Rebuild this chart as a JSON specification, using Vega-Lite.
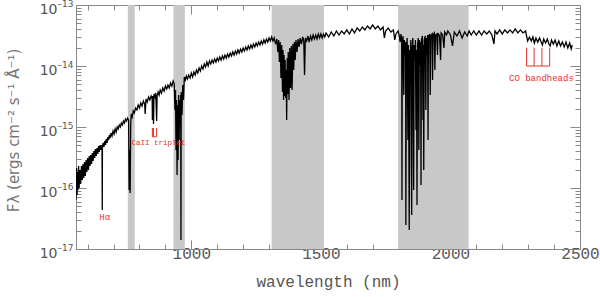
{
  "$schema": "https://vega.github.io/schema/vega-lite/v6.json",
  "autosize": {"type": "none"},
  "width": 504,
  "height": 244,
  "padding": {"left": 76, "top": 5, "right": 20, "bottom": 48},
  "background": "white",
  "config": {"view": {"stroke": null}},
  "datasets": {
    "bands": [{"a": 755, "b": 782}, {"a": 931, "b": 975}, {"a": 1310, "b": 1512}, {"a": 1798, "b": 2070}],
    "spec": [
      {"w":555,"f":6.36e-17},{"w":557,"f":2.13e-16},{"w":559,"f":7.67e-17},{"w":561,"f":1.83e-16},{"w":563,"f":9.27e-17},
      {"w":565,"f":2.29e-16},{"w":567,"f":1.00e-16},{"w":570,"f":1.97e-16},{"w":573,"f":1.16e-16},{"w":576,"f":2.29e-16},
      {"w":579,"f":1.35e-16},{"w":582,"f":2.47e-16},{"w":585,"f":1.46e-16},{"w":588,"f":2.67e-16},{"w":591,"f":1.57e-16},
      {"w":594,"f":2.88e-16},{"w":597,"f":1.83e-16},{"w":600,"f":3.10e-16},{"w":603,"f":1.97e-16},{"w":606,"f":3.35e-16},
      {"w":609,"f":2.29e-16},{"w":612,"f":3.48e-16},{"w":615,"f":2.47e-16},{"w":618,"f":3.75e-16},{"w":621,"f":2.77e-16},
      {"w":624,"f":4.04e-16},{"w":627,"f":3.10e-16},{"w":630,"f":4.36e-16},{"w":633,"f":3.35e-16},{"w":636,"f":4.53e-16},
      {"w":639,"f":3.61e-16},{"w":642,"f":4.88e-16},{"w":645,"f":3.90e-16},{"w":648,"f":5.07e-16},{"w":651,"f":4.20e-16},
      {"w":654,"f":5.07e-16},{"w":655.5,"f":4.53e-16},{"w":656.3,"f":4.36e-17},{"w":657,"f":4.88e-16},{"w":660,"f":5.47e-16},
      {"w":663,"f":4.70e-16},{"w":666,"f":5.90e-16},{"w":669,"f":5.07e-16},{"w":672,"f":6.36e-16},{"w":675,"f":5.47e-16},
      {"w":678,"f":6.86e-16},{"w":681,"f":6.12e-16},{"w":684,"f":7.39e-16},{"w":687,"f":6.60e-16},{"w":690,"f":7.97e-16},
      {"w":694,"f":7.12e-16},{"w":698,"f":8.60e-16},{"w":702,"f":7.68e-16},{"w":706,"f":9.27e-16},{"w":710,"f":8.28e-16},
      {"w":714,"f":1.00e-15},{"w":718,"f":9.27e-16},{"w":722,"f":1.08e-15},{"w":726,"f":1.00e-15},{"w":730,"f":1.16e-15},
      {"w":734,"f":1.08e-15},{"w":738,"f":1.25e-15},{"w":742,"f":1.16e-15},{"w":746,"f":1.35e-15},{"w":750,"f":1.25e-15},
      {"w":754,"f":1.40e-15},{"w":758,"f":1.30e-15},{"w":760,"f":9.27e-17},{"w":762,"f":4.20e-16},{"w":764,"f":8.3e-17},
      {"w":766,"f":1.08e-15},{"w":768,"f":1.63e-15},{"w":772,"f":1.46e-15},{"w":776,"f":1.83e-15},{"w":780,"f":1.70e-15},
      {"w":785,"f":2.05e-15},{"w":790,"f":1.90e-15},{"w":795,"f":2.29e-15},{"w":800,"f":2.05e-15},{"w":805,"f":2.47e-15},
      {"w":810,"f":2.21e-15},{"w":815,"f":2.67e-15},{"w":820,"f":2.38e-15},{"w":822,"f":1.63e-15},{"w":825,"f":2.88e-15},
      {"w":830,"f":2.57e-15},{"w":835,"f":3.10e-15},{"w":840,"f":2.77e-15},{"w":845,"f":3.22e-15},{"w":849,"f":2.88e-15},
      {"w":849.8,"f":1.30e-15},{"w":851,"f":3.22e-15},{"w":854.2,"f":1.12e-15},{"w":856,"f":3.48e-15},{"w":860,"f":3.10e-15},
      {"w":863,"f":3.61e-15},{"w":866.2,"f":1.25e-15},{"w":868,"f":3.22e-15},{"w":872,"f":3.75e-15},{"w":876,"f":3.35e-15},
      {"w":880,"f":4.04e-15},{"w":885,"f":3.61e-15},{"w":890,"f":4.36e-15},{"w":895,"f":3.90e-15},{"w":900,"f":4.70e-15},
      {"w":905,"f":4.20e-15},{"w":910,"f":4.88e-15},{"w":915,"f":4.36e-15},{"w":920,"f":5.27e-15},{"w":925,"f":4.70e-15},
      {"w":930,"f":5.68e-15},{"w":934,"f":5.07e-15},{"w":937,"f":1.90e-15},{"w":939,"f":4.04e-15},{"w":941,"f":4.20e-16},
      {"w":943,"f":2.77e-15},{"w":945,"f":1.63e-16},{"w":947,"f":2.29e-15},{"w":949,"f":2.88e-16},{"w":951,"f":3.35e-15},
      {"w":953,"f":6.12e-16},{"w":955,"f":2.77e-15},{"w":957,"f":1.08e-15},{"w":959,"f":3.35e-15},{"w":960,"f":1.41e-17},
      {"w":961,"f":3.75e-15},{"w":964,"f":1.57e-15},{"w":967,"f":4.88e-15},{"w":970,"f":2.77e-15},{"w":973,"f":6.60e-15},
      {"w":977,"f":5.90e-15},{"w":981,"f":6.86e-15},{"w":985,"f":6.12e-15},{"w":990,"f":7.12e-15},{"w":995,"f":6.36e-15},
      {"w":1000,"f":7.68e-15},{"w":1005,"f":6.60e-15},{"w":1010,"f":7.97e-15},{"w":1015,"f":7.12e-15},{"w":1020,"f":8.60e-15},
      {"w":1025,"f":7.68e-15},{"w":1030,"f":9.27e-15},{"w":1035,"f":8.28e-15},{"w":1040,"f":1.00e-14},{"w":1045,"f":8.93e-15},
      {"w":1050,"f":1.08e-14},{"w":1055,"f":9.63e-15},{"w":1060,"f":1.16e-14},{"w":1065,"f":1.00e-14},{"w":1070,"f":1.21e-14},
      {"w":1075,"f":1.08e-14},{"w":1080,"f":1.25e-14},{"w":1085,"f":1.12e-14},{"w":1090,"f":1.30e-14},{"w":1095,"f":1.16e-14},
      {"w":1100,"f":1.35e-14},{"w":1105,"f":1.21e-14},{"w":1110,"f":1.40e-14},{"w":1115,"f":1.25e-14},{"w":1120,"f":1.46e-14},
      {"w":1125,"f":1.30e-14},{"w":1130,"f":1.51e-14},{"w":1135,"f":1.35e-14},{"w":1140,"f":1.57e-14},{"w":1145,"f":1.40e-14},
      {"w":1150,"f":1.63e-14},{"w":1155,"f":1.46e-14},{"w":1160,"f":1.70e-14},{"w":1165,"f":1.51e-14},{"w":1170,"f":1.76e-14},
      {"w":1175,"f":1.57e-14},{"w":1180,"f":1.83e-14},{"w":1185,"f":1.63e-14},{"w":1190,"f":1.90e-14},{"w":1195,"f":1.70e-14},
      {"w":1200,"f":1.97e-14},{"w":1205,"f":1.76e-14},{"w":1210,"f":2.05e-14},{"w":1215,"f":1.83e-14},{"w":1220,"f":2.13e-14},
      {"w":1225,"f":1.90e-14},{"w":1230,"f":2.21e-14},{"w":1235,"f":1.97e-14},{"w":1240,"f":2.29e-14},{"w":1245,"f":2.05e-14},
      {"w":1250,"f":2.38e-14},{"w":1255,"f":2.13e-14},{"w":1260,"f":2.47e-14},{"w":1265,"f":2.21e-14},{"w":1270,"f":2.57e-14},
      {"w":1275,"f":2.29e-14},{"w":1280,"f":2.67e-14},{"w":1285,"f":2.38e-14},{"w":1290,"f":2.77e-14},{"w":1295,"f":2.47e-14},
      {"w":1300,"f":2.88e-14},{"w":1305,"f":2.57e-14},{"w":1310,"f":2.99e-14},{"w":1315,"f":2.57e-14},{"w":1320,"f":2.88e-14},
      {"w":1325,"f":2.29e-14},{"w":1330,"f":2.77e-14},{"w":1334,"f":1.70e-14},{"w":1337,"f":2.67e-14},{"w":1340,"f":1.16e-14},
      {"w":1343,"f":2.47e-14},{"w":1346,"f":6.36e-15},{"w":1349,"f":2.21e-14},{"w":1352,"f":3.75e-15},{"w":1354,"f":1.83e-14},
      {"w":1356,"f":2.77e-15},{"w":1358,"f":1.51e-14},{"w":1360,"f":3.22e-15},{"w":1362,"f":1.25e-14},{"w":1364,"f":2.99e-15},
      {"w":1366,"f":8.60e-15},{"w":1368,"f":1.30e-15},{"w":1370,"f":1.35e-14},{"w":1372,"f":3.48e-15},{"w":1374,"f":1.70e-14},
      {"w":1377,"f":2.77e-15},{"w":1380,"f":1.97e-14},{"w":1383,"f":4.36e-15},{"w":1386,"f":2.13e-14},{"w":1389,"f":4.04e-15},
      {"w":1392,"f":2.29e-14},{"w":1395,"f":8.60e-15},{"w":1398,"f":2.47e-14},{"w":1401,"f":1.25e-14},{"w":1404,"f":2.67e-14},
      {"w":1408,"f":1.70e-14},{"w":1412,"f":2.77e-14},{"w":1416,"f":2.05e-14},{"w":1420,"f":2.88e-14},{"w":1425,"f":2.29e-14},
      {"w":1430,"f":2.99e-14},{"w":1434,"f":2.57e-14},{"w":1437,"f":7.12e-15},{"w":1440,"f":2.88e-14},{"w":1445,"f":2.57e-14},
      {"w":1450,"f":3.10e-14},{"w":1455,"f":2.47e-14},{"w":1460,"f":3.10e-14},{"w":1465,"f":2.67e-14},{"w":1470,"f":3.22e-14},
      {"w":1475,"f":2.77e-14},{"w":1480,"f":3.22e-14},{"w":1485,"f":2.77e-14},{"w":1490,"f":3.35e-14},{"w":1495,"f":2.88e-14},
      {"w":1500,"f":3.35e-14},{"w":1505,"f":2.88e-14},{"w":1510,"f":3.35e-14},{"w":1515,"f":2.99e-14},{"w":1520,"f":3.48e-14},
      {"w":1530,"f":2.99e-14},{"w":1540,"f":3.61e-14},{"w":1550,"f":3.10e-14},{"w":1560,"f":3.75e-14},{"w":1570,"f":3.22e-14},
      {"w":1580,"f":3.75e-14},{"w":1590,"f":3.35e-14},{"w":1600,"f":3.90e-14},{"w":1610,"f":3.35e-14},{"w":1620,"f":4.05e-14},
      {"w":1630,"f":3.48e-14},{"w":1640,"f":4.20e-14},{"w":1650,"f":3.75e-14},{"w":1660,"f":4.36e-14},{"w":1670,"f":3.90e-14},
      {"w":1680,"f":4.53e-14},{"w":1690,"f":4.05e-14},{"w":1700,"f":4.70e-14},{"w":1710,"f":4.05e-14},{"w":1720,"f":4.53e-14},
      {"w":1730,"f":3.90e-14},{"w":1740,"f":4.36e-14},{"w":1745,"f":2.88e-14},{"w":1750,"f":3.75e-14},{"w":1760,"f":4.20e-14},
      {"w":1770,"f":3.61e-14},{"w":1780,"f":3.90e-14},{"w":1785,"f":2.67e-14},{"w":1790,"f":3.35e-14},{"w":1798,"f":3.75e-14},
      {"w":1802,"f":3.22e-14},{"w":1806,"f":2.47e-14},{"w":1809,"f":3.35e-14},{"w":1812,"f":2.67e-14},{"w":1813,"f":6.36e-17},
      {"w":1814,"f":2.21e-14},{"w":1817,"f":3.10e-14},{"w":1820,"f":3.35e-15},{"w":1822,"f":2.67e-14},{"w":1825,"f":1.51e-14},
      {"w":1827,"f":2.47e-14},{"w":1828,"f":2.47e-17},{"w":1830,"f":1.83e-14},{"w":1833,"f":2.88e-14},{"w":1836,"f":6.12e-16},
      {"w":1838,"f":2.21e-14},{"w":1841,"f":2.05e-17},{"w":1843,"f":1.83e-14},{"w":1845,"f":8.60e-15},{"w":1847,"f":2.67e-14},
      {"w":1849,"f":2.88e-16},{"w":1850.5,"f":3.60e-17},{"w":1852,"f":1.97e-14},{"w":1855,"f":2.88e-14},{"w":1858,"f":9.27e-17},
      {"w":1860,"f":2.21e-14},{"w":1863,"f":1.25e-14},{"w":1865,"f":2.67e-14},{"w":1867,"f":8.93e-16},{"w":1869,"f":1.83e-14},
      {"w":1871,"f":5.26e-17},{"w":1873,"f":2.21e-14},{"w":1876,"f":2.88e-14},{"w":1878,"f":4.20e-16},{"w":1880,"f":2.67e-14},
      {"w":1883,"f":1.04e-14},{"w":1885,"f":2.47e-14},{"w":1886.5,"f":1.12e-16},{"w":1888,"f":2.67e-14},{"w":1892,"f":3.10e-14},
      {"w":1894,"f":1.30e-15},{"w":1895.5,"f":2.21e-14},{"w":1897,"f":1.97e-16},{"w":1899,"f":2.67e-14},{"w":1903,"f":3.10e-14},
      {"w":1905,"f":1.90e-15},{"w":1907,"f":2.88e-14},{"w":1910,"f":1.51e-14},{"w":1912,"f":3.22e-14},{"w":1913.5,"f":6.12e-16},
      {"w":1915,"f":2.99e-14},{"w":1920,"f":3.35e-14},{"w":1922,"f":3.35e-15},{"w":1924,"f":3.10e-14},{"w":1929,"f":3.35e-14},
      {"w":1931,"f":5.90e-15},{"w":1933,"f":3.22e-14},{"w":1938,"f":3.48e-14},{"w":1940,"f":8.60e-15},{"w":1942,"f":3.22e-14},
      {"w":1947,"f":3.35e-14},{"w":1950,"f":1.51e-14},{"w":1952,"f":3.48e-14},{"w":1958,"f":3.10e-14},{"w":1962,"f":1.25e-14},
      {"w":1964,"f":3.48e-14},{"w":1970,"f":3.22e-14},{"w":1975,"f":1.97e-14},{"w":1978,"f":3.61e-14},{"w":1985,"f":3.22e-14},
      {"w":1990,"f":3.75e-14},
      {"w":2000,"f":3.22e-14},{"w":2008,"f":2.13e-14},{"w":2015,"f":3.61e-14},{"w":2025,"f":3.10e-14},{"w":2035,"f":3.75e-14},
      {"w":2045,"f":2.88e-14},{"w":2055,"f":3.61e-14},{"w":2065,"f":3.10e-14},{"w":2072,"f":3.75e-14},{"w":2080,"f":3.22e-14},
      {"w":2090,"f":3.75e-14},{"w":2100,"f":3.22e-14},{"w":2110,"f":3.75e-14},{"w":2120,"f":3.22e-14},{"w":2130,"f":3.75e-14},
      {"w":2140,"f":3.35e-14},{"w":2150,"f":3.75e-14},{"w":2160,"f":3.22e-14},{"w":2168,"f":2.29e-14},{"w":2172,"f":3.75e-14},
      {"w":2180,"f":3.35e-14},{"w":2190,"f":3.90e-14},{"w":2200,"f":3.35e-14},{"w":2210,"f":3.90e-14},{"w":2220,"f":3.48e-14},
      {"w":2230,"f":3.90e-14},{"w":2240,"f":3.48e-14},{"w":2250,"f":4.05e-14},{"w":2260,"f":3.48e-14},{"w":2270,"f":3.90e-14},
      {"w":2280,"f":3.48e-14},{"w":2290,"f":3.75e-14},{"w":2294,"f":3.10e-14},{"w":2298,"f":2.57e-14},{"w":2305,"f":2.99e-14},
      {"w":2312,"f":2.57e-14},{"w":2318,"f":2.99e-14},{"w":2324,"f":2.38e-14},{"w":2330,"f":2.88e-14},{"w":2337,"f":2.47e-14},
      {"w":2344,"f":2.88e-14},{"w":2350,"f":2.47e-14},{"w":2355,"f":2.21e-14},{"w":2360,"f":2.77e-14},{"w":2367,"f":2.38e-14},
      {"w":2374,"f":2.77e-14},{"w":2380,"f":2.29e-14},{"w":2385,"f":2.13e-14},{"w":2390,"f":2.67e-14},{"w":2397,"f":2.29e-14},
      {"w":2404,"f":2.67e-14},{"w":2411,"f":2.13e-14},{"w":2418,"f":2.57e-14},{"w":2425,"f":2.13e-14},{"w":2432,"f":2.47e-14},
      {"w":2439,"f":2.05e-14},{"w":2446,"f":2.47e-14},{"w":2453,"f":1.97e-14},{"w":2460,"f":2.38e-14},{"w":2466,"f":1.90e-14},
      {"w":2470,"f":2.21e-14}
    ],
    "vmarks": [
      {"w": 849.8, "lo": 6.9e-16, "hi": 9.63e-16},
      {"w": 854.2, "lo": 6.9e-16, "hi": 9.63e-16},
      {"w": 866.2, "lo": 6.9e-16, "hi": 9.63e-16},
      {"w": 2294, "lo": 1.0e-14, "hi": 2.0e-14},
      {"w": 2323, "lo": 1.0e-14, "hi": 2.0e-14},
      {"w": 2353, "lo": 1.0e-14, "hi": 2.0e-14},
      {"w": 2383, "lo": 1.0e-14, "hi": 2.0e-14}
    ],
    "hmarks": [
      {"a": 849.8, "b": 866.2, "f": 6.9e-16},
      {"a": 2294, "b": 2383, "f": 1.0e-14}
    ],
    "labelsBig": [
      {"w": 666, "f": 3.35e-17, "t": "Hα"},
      {"w": 2351, "f": 6.47e-15, "t": "CO bandheads"}
    ],
    "labelsSmall": [
      {"w": 873, "f": 5.47e-16, "t": "CaII triplet"}
    ]
  },
  "resolve": {"axis": {"x": "independent", "y": "independent"}},
  "layer": [
    {
      "data": {"name": "bands"},
      "mark": {"type": "rect", "color": "#c8c8c8"},
      "encoding": {
        "x": {
          "field": "a", "type": "quantitative",
          "scale": {"domain": [555, 2500], "nice": false, "zero": false},
          "axis": {
            "orient": "bottom",
            "values": [600,700,800,900,1000,1100,1200,1300,1400,1500,1600,1700,1800,1900,2000,2100,2200,2300,2400,2500],
            "labelExpr": "datum.value % 500 == 0 ? '' + datum.value : ''",
            "tickSize": {"condition": {"test": "datum.value % 500 == 0", "value": -9}, "value": -5},
            "grid": false, "labelFlush": false, "labelOverlap": false,
            "domainColor": "#888", "tickColor": "#888",
            "labelColor": "#555", "labelFont": "Liberation Mono", "labelFontSize": 16, "labelPadding": 5,
            "title": "wavelength (nm)", "titleFont": "Liberation Mono", "titleFontSize": 16,
            "titleFontWeight": "normal", "titleColor": "#555", "titleY": 37, "titleBaseline": "alphabetic"
          }
        },
        "x2": {"field": "b"}
      }
    },
    {
      "data": {"name": "spec"},
      "mark": {"type": "line", "color": "black", "strokeWidth": 1.3, "clip": true},
      "encoding": {
        "x": {"field": "w", "type": "quantitative", "scale": {"domain": [555, 2500], "nice": false, "zero": false}, "axis": null},
        "y": {
          "field": "f", "type": "quantitative",
          "scale": {"type": "log", "domain": [1e-17, 1e-13], "nice": false},
          "axis": {
            "orient": "left",
            "values": [1e-17,2e-17,3e-17,4e-17,5e-17,6e-17,7e-17,8e-17,9e-17,1e-16,2e-16,3e-16,4e-16,5e-16,6e-16,7e-16,8e-16,9e-16,1e-15,2e-15,3e-15,4e-15,5e-15,6e-15,7e-15,8e-15,9e-15,1e-14,2e-14,3e-14,4e-14,5e-14,6e-14,7e-14,8e-14,9e-14,1e-13],
            "labelExpr": "abs(log(datum.value)/LN10 - round(log(datum.value)/LN10)) < 0.01 ? '10' : ''",
            "tickSize": {"condition": {"test": "abs(log(datum.value)/LN10 - round(log(datum.value)/LN10)) < 0.01", "value": -10}, "value": -5},
            "grid": false, "labelOverlap": false, "labelFlush": false,
            "domainColor": "#888", "tickColor": "#888",
            "labelColor": "#555", "labelFont": "DejaVu Sans", "labelFontSize": 14,
            "labelPadding": 29, "labelAlign": "right", "labelBaseline": "middle", "labelOffset": 4,
            "title": "Fλ (ergs cm⁻² s⁻¹ Å⁻¹)", "titleFont": "DejaVu Sans", "titleFontSize": 15,
            "titleFontWeight": "normal", "titleColor": "#777",
            "titleX": -63, "titleY": 125, "titleAngle": -90, "titleAlign": "center", "titleBaseline": "middle"
          }
        }
      }
    },
    {
      "data": {"name": "vmarks"},
      "mark": {"type": "rule", "color": "#e8302a", "strokeWidth": 1},
      "encoding": {
        "x": {
          "field": "w", "type": "quantitative",
          "scale": {"domain": [555, 2500], "nice": false, "zero": false},
          "axis": {
            "orient": "top",
            "values": [600,700,800,900,1000,1100,1200,1300,1400,1500,1600,1700,1800,1900,2000,2100,2200,2300,2400,2500],
            "labels": false, "title": null, "grid": false,
            "tickSize": {"condition": {"test": "datum.value % 500 == 0", "value": -9}, "value": -5},
            "domainColor": "#888", "tickColor": "#888"
          }
        },
        "y": {
          "field": "lo", "type": "quantitative",
          "scale": {"type": "log", "domain": [1e-17, 1e-13], "nice": false},
          "axis": {
            "orient": "left",
            "values": [1e-17,1e-16,1e-15,1e-14,1e-13],
            "labelExpr": "'–' + (-round(log(datum.value)/LN10))",
            "ticks": false, "domain": false, "grid": false, "title": null,
            "labelOverlap": false, "labelFlush": false,
            "labelColor": "#555", "labelFont": "DejaVu Sans", "labelFontSize": 9,
            "labelPadding": 3, "labelAlign": "right", "labelBaseline": "middle", "labelOffset": -2
          }
        },
        "y2": {"field": "hi"}
      }
    },
    {
      "data": {"name": "hmarks"},
      "mark": {"type": "rule", "color": "#e8302a", "strokeWidth": 1},
      "encoding": {
        "x": {"field": "a", "type": "quantitative", "scale": {"domain": [555, 2500], "nice": false, "zero": false}, "axis": null},
        "x2": {"field": "b"},
        "y": {
          "field": "f", "type": "quantitative",
          "scale": {"type": "log", "domain": [1e-17, 1e-13], "nice": false},
          "axis": {
            "orient": "right",
            "values": [1e-17,2e-17,3e-17,4e-17,5e-17,6e-17,7e-17,8e-17,9e-17,1e-16,2e-16,3e-16,4e-16,5e-16,6e-16,7e-16,8e-16,9e-16,1e-15,2e-15,3e-15,4e-15,5e-15,6e-15,7e-15,8e-15,9e-15,1e-14,2e-14,3e-14,4e-14,5e-14,6e-14,7e-14,8e-14,9e-14,1e-13],
            "labels": false, "title": null, "grid": false,
            "tickSize": {"condition": {"test": "abs(log(datum.value)/LN10 - round(log(datum.value)/LN10)) < 0.01", "value": -10}, "value": -5},
            "domainColor": "#888", "tickColor": "#888"
          }
        }
      }
    },
    {
      "data": {"name": "labelsBig"},
      "mark": {"type": "text", "color": "#e8302a", "font": "Liberation Mono", "fontSize": 9, "align": "center", "baseline": "middle"},
      "encoding": {
        "x": {"field": "w", "type": "quantitative", "scale": {"domain": [555, 2500], "nice": false, "zero": false}, "axis": null},
        "y": {"field": "f", "type": "quantitative", "scale": {"type": "log", "domain": [1e-17, 1e-13], "nice": false}, "axis": null},
        "text": {"field": "t"}
      }
    },
    {
      "data": {"name": "labelsSmall"},
      "mark": {"type": "text", "color": "#e8302a", "font": "Liberation Mono", "fontSize": 7.5, "align": "center", "baseline": "middle"},
      "encoding": {
        "x": {"field": "w", "type": "quantitative", "scale": {"domain": [555, 2500], "nice": false, "zero": false}, "axis": null},
        "y": {"field": "f", "type": "quantitative", "scale": {"type": "log", "domain": [1e-17, 1e-13], "nice": false}, "axis": null},
        "text": {"field": "t"}
      }
    }
  ]
}
